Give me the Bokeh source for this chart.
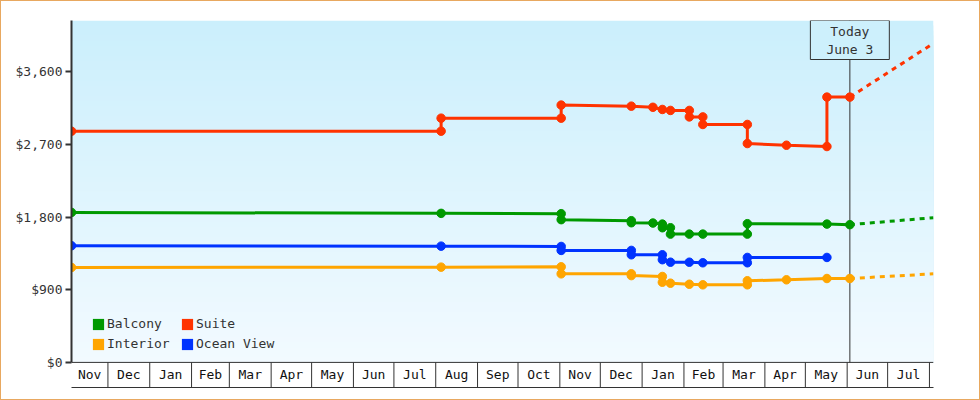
import pandas as pd
from bokeh.plotting import figure
from bokeh.models import (Range1d, FixedTicker, NumeralTickFormatter, Label,
                          Legend, LegendItem, Span)
from bokeh.core.properties import value
from bokeh.embed import file_html
from bokeh.resources import INLINE

FONT = "DejaVu Sans Mono"

# ---------------- data ----------------
suite_dates = ["2022-11-04", "2023-08-05", "2023-08-05", "2023-11-02", "2023-11-02",
               "2023-12-24", "2024-01-09", "2024-01-16", "2024-01-22", "2024-02-05",
               "2024-02-05", "2024-02-15", "2024-02-15", "2024-03-19", "2024-03-19",
               "2024-04-17", "2024-05-17", "2024-05-17", "2024-06-03"]
suite_prices = [2864, 2864, 3025, 3025, 3187, 3174, 3160, 3133, 3121, 3121,
                3041, 3041, 2947, 2947, 2711, 2690, 2674, 3286, 3286]

balcony_dates = ["2022-11-04", "2023-08-05", "2023-11-02", "2023-11-02", "2023-12-24",
                 "2023-12-24", "2024-01-09", "2024-01-16", "2024-01-16", "2024-01-22",
                 "2024-01-22", "2024-02-05", "2024-02-15", "2024-03-19", "2024-03-19",
                 "2024-05-17", "2024-06-03"]
balcony_prices = [1858, 1846, 1842, 1768, 1755, 1730, 1726, 1713, 1668, 1668,
                  1589, 1589, 1589, 1589, 1718, 1713, 1706]

ocean_dates = ["2022-11-04", "2023-08-05", "2023-11-02", "2023-11-02", "2023-12-24",
               "2023-12-24", "2024-01-16", "2024-01-16", "2024-01-22", "2024-02-05",
               "2024-02-15", "2024-03-19", "2024-03-19", "2024-05-17"]
ocean_prices = [1445, 1440, 1436, 1387, 1387, 1333, 1333, 1272, 1241, 1241,
                1234, 1234, 1300, 1300]

interior_dates = ["2022-11-04", "2023-08-05", "2023-11-02", "2023-11-02", "2023-12-24",
                  "2023-12-24", "2024-01-16", "2024-01-16", "2024-01-22", "2024-02-05",
                  "2024-02-15", "2024-03-19", "2024-03-19", "2024-04-17", "2024-05-17",
                  "2024-06-03"]
interior_prices = [1176, 1180, 1184, 1097, 1097, 1075, 1064, 993, 981, 968,
                   961, 961, 1011, 1023, 1039, 1039]

proj_dates = ["2024-06-03", "2024-08-04"]
suite_proj = [3286, 3953]
balcony_proj = [1706, 1793]
interior_proj = [1039, 1097]

today = "2024-06-03"
today_text = "Today\nJune 3"

month_labels = ["Nov", "Dec", "Jan", "Feb", "Mar", "Apr", "May", "Jun", "Jul", "Aug",
                "Sep", "Oct", "Nov", "Dec", "Jan", "Feb", "Mar", "Apr", "May", "Jun", "Jul"]
y_ticks = [0, 900, 1800, 2700, 3600]

x_start = pd.Timestamp("2022-11-04")
x_end = pd.Timestamp("2024-08-04")

series = [
    ("Balcony", balcony_dates, balcony_prices, "#009900"),
    ("Suite", suite_dates, suite_prices, "#ff3300"),
    ("Interior", interior_dates, interior_prices, "#ffa500"),
    ("Ocean View", ocean_dates, ocean_prices, "#0033ff"),
]
projections = [
    (suite_proj, "#ff3300"),
    (balcony_proj, "#009900"),
    (interior_proj, "#ffa500"),
]

# ---------------- figure ----------------
YMAX = 4235
YMIN = -311

p = figure(width=978, height=398, x_axis_type="datetime",
           x_range=Range1d(x_start, x_end), y_range=Range1d(YMIN, YMAX),
           output_backend="svg", toolbar_location=None,
           min_border_left=70, min_border_right=48, min_border_top=19,
           min_border_bottom=14, background_fill_color="white",
           border_fill_color="white", outline_line_color=None,
           styles={"border": "1px solid #e8a860", "box-sizing": "content-box"})
p.xgrid.visible = False
p.ygrid.visible = False

# background gradient (plot area above the month band); stacked quads, no seams
top_rgb = (203, 239, 252)
bot_rgb = (242, 250, 255)
nb = 68
for i in range(nb):
    t = i / (nb - 1)
    c = tuple(int(round(top_rgb[k] + (bot_rgb[k] - top_rgb[k]) * t)) for k in range(3))
    y1 = YMAX - YMAX * i / nb
    p.quad(left=[x_start], right=[x_end], top=[y1], bottom=[0],
           fill_color="#%02x%02x%02x" % c, line_color=None)

# month band
bounds = list(pd.date_range("2022-12-01", "2024-08-01", freq="MS"))
cells = [x_start] + bounds + [x_end]
mids = [cells[i] + (cells[i + 1] - cells[i]) / 2 for i in range(len(month_labels))]
p.segment(x0=bounds, y0=[0] * len(bounds), x1=bounds, y1=[YMIN] * len(bounds),
          line_color="#333333", line_width=1)
p.add_layout(Span(location=0, dimension="width", line_color="#333333", line_width=1))
p.text(x=mids, y=[YMIN / 2] * len(mids), text=month_labels,
       text_font=value(FONT), text_font_size="13px", text_align="center",
       text_baseline="middle", text_color="#111111")

# today line
p.segment(x0=[pd.Timestamp(today)], y0=[0], x1=[pd.Timestamp(today)], y1=[YMAX],
          line_color="#333333", line_width=1)

# projections
for vals, col in projections:
    p.line(pd.to_datetime(proj_dates), vals, line_color=col, line_width=3,
           line_dash="5 5")

# series
legend_items = []
for name, d, v, col in series:
    dd = pd.to_datetime(d)
    p.line(dd, v, line_color=col, line_width=3)
    p.scatter(dd, v, size=8.5, marker="circle", fill_color=col, line_color=col)
    # zero-area swatch renderer used only for the legend square
    swatch = p.quad(left=[x_start], right=[x_start], top=[0], bottom=[0],
                    fill_color=col, line_color=None)
    legend_items.append(LegendItem(label=name, renderers=[swatch]))

legend = Legend(items=legend_items, location=(20, 36), orientation="horizontal",
                ncols=2, background_fill_alpha=0, border_line_color=None,
                label_text_font=FONT, label_text_font_size="13px",
                label_text_color="#333333", glyph_width=14, glyph_height=14,
                label_height=14, label_standoff=2, spacing=5, padding=5, margin=0,
                label_width=68)
p.add_layout(legend)

# today label box
p.add_layout(Label(x=pd.Timestamp(today), y=YMAX, text=today_text,
                   text_align="center", text_baseline="top", text_font=FONT,
                   text_font_size="13px", text_color="#333333",
                   text_line_height=1.2,
                   border_line_color="#333333", border_line_width=1,
                   background_fill_color="#cdf0fc",
                   padding=dict(left=16, right=16, top=3, bottom=3),
                   y_offset=0))

# axes
p.yaxis.bounds = (0, YMAX)
p.yaxis.ticker = FixedTicker(ticks=y_ticks)
p.yaxis.formatter = NumeralTickFormatter(format="$0,0")
p.yaxis.axis_line_color = "#333333"
p.yaxis.axis_line_width = 2
p.yaxis.major_tick_line_color = "#333333"
p.yaxis.major_tick_line_width = 2
p.yaxis.major_tick_out = 6
p.yaxis.major_tick_in = 0
p.yaxis.minor_tick_line_color = None
p.yaxis.major_label_text_font = FONT
p.yaxis.major_label_text_font_size = "13px"
p.yaxis.major_label_text_color = "#333333"
p.yaxis.major_label_standoff = 3

p.xaxis.ticker = FixedTicker(ticks=[])
p.xaxis.axis_line_color = "#333333"
p.xaxis.axis_line_width = 1
p.xaxis.major_tick_line_color = None
p.xaxis.minor_tick_line_color = None
p.xaxis.major_label_text_font_size = "0px"

open("out.html", "w").write(file_html(p, INLINE))
